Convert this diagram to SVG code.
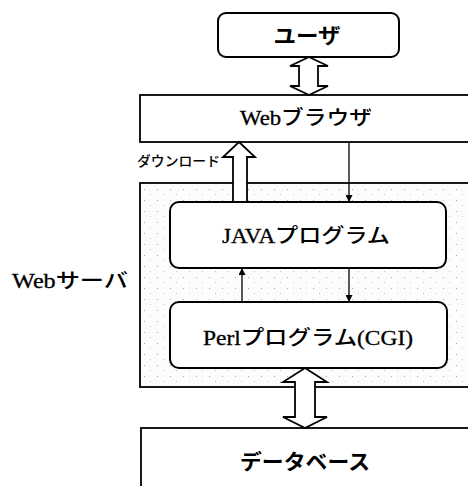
<svg xmlns="http://www.w3.org/2000/svg" width="468" height="486" viewBox="0 0 468 486">
<defs>
<style>
.box{fill:#fff;stroke:#000;stroke-width:1.8}
.rbox{fill:#fff;stroke:#000;stroke-width:2}
.ln{stroke:#000;stroke-width:1.3;fill:none}
.dbl{fill:#fff;stroke:#000;stroke-width:1.8;stroke-linejoin:miter}
.t{font-family:"Liberation Serif","Noto Sans CJK JP",serif;font-size:20px;fill:#000;text-anchor:middle;stroke:#000;stroke-width:0.3}
.k{font-family:"Noto Sans CJK JP",sans-serif;font-weight:500;stroke-width:0}
.g{font-family:"Noto Sans CJK JP",sans-serif;font-weight:bold;font-size:21px;fill:#000;text-anchor:middle}
.s{font-family:"Noto Sans CJK JP",sans-serif;font-weight:500;font-size:13.5px;fill:#000}
</style>
<pattern id="dots" width="13" height="11" patternUnits="userSpaceOnUse">
<rect x="1" y="2" width="1" height="1" fill="#a8a8a8"/>
<rect x="7" y="7" width="1" height="1" fill="#c0c0c0"/>
</pattern>
<marker id="ah" viewBox="0 0 8 8" refX="8" refY="4" markerWidth="7" markerHeight="7" orient="auto" markerUnits="userSpaceOnUse">
<path d="M0,0 L8,4 L0,8 Z" fill="#000"/>
</marker>
</defs>
<rect width="468" height="486" fill="#fff"/>

<g id="webserver">
<rect x="140" y="183" width="340" height="204" fill="#fcfcfc" stroke="#000" stroke-width="1.8"/>
<rect x="141" y="184" width="338" height="202" fill="url(#dots)"/>
<text class="t" x="70" y="288" textLength="116" lengthAdjust="spacingAndGlyphs">Web<tspan class="k">サーバ</tspan></text>
</g>

<g id="user">
<rect class="rbox" x="218" y="13" width="181" height="44" rx="8"/>
<text class="g" x="307" y="43" textLength="67" lengthAdjust="spacingAndGlyphs">ユーザ</text>
</g>

<g id="browser">
<rect class="box" x="140" y="95" width="340" height="47"/>
<text class="t" x="306" y="125" textLength="132" lengthAdjust="spacingAndGlyphs">Web<tspan class="k">ブラウザ</tspan></text>
</g>

<g id="java">
<rect class="rbox" x="170" y="202" width="276" height="66" rx="9"/>
<text class="t" x="306" y="243" textLength="168" lengthAdjust="spacingAndGlyphs">JAVA<tspan class="k">プログラム</tspan></text>
</g>

<g id="perl">
<rect class="rbox" x="170" y="302" width="277" height="66" rx="9"/>
<text class="t" x="308" y="345" textLength="210" lengthAdjust="spacingAndGlyphs">Perl<tspan class="k">プログラム</tspan>(CGI)</text>
</g>

<g id="database">
<rect class="box" x="141" y="428" width="340" height="70"/>
<text class="g" x="305" y="469" textLength="130" lengthAdjust="spacingAndGlyphs">データベース</text>
</g>

<g id="connectors">
<path class="dbl" d="M309,57 L328,66 L318,66 L318,86 L328,86 L309,95 L290,86 L299,86 L299,66 L290,66 Z"/>
<path class="dbl" d="M305,368 L327,382 L315,382 L315,417 L327,417 L305,428 L283,417 L295,417 L295,382 L283,382 Z"/>
<path class="dbl" d="M239,142 L255,157 L247,157 L247,202 L233,202 L233,157 L223,157 Z"/>
<line class="ln" x1="349" y1="142" x2="349" y2="202" marker-end="url(#ah)"/>
<line class="ln" x1="349" y1="268" x2="349" y2="302" marker-end="url(#ah)"/>
<line class="ln" x1="242" y1="302" x2="242" y2="268" marker-end="url(#ah)"/>
<text class="s" x="137" y="166" textLength="83" lengthAdjust="spacingAndGlyphs">ダウンロード</text>
</g>
</svg>
